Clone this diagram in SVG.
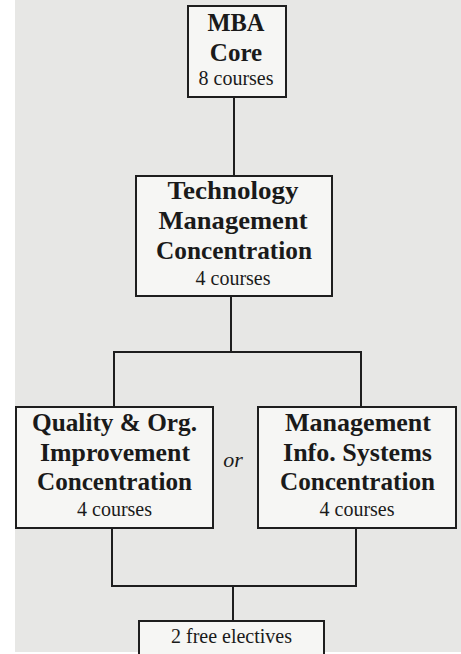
<svg xmlns="http://www.w3.org/2000/svg" width="461" height="654" viewBox="0 0 461 654">
<style>
.box{fill:#f6f6f4;stroke:#1e1e1e;stroke-width:2}
.t{font-family:"Liberation Serif","Times New Roman",serif;font-weight:bold;font-size:25px;fill:#1a1a1a;text-anchor:middle}
.s{font-family:"Liberation Serif","Times New Roman",serif;font-size:20px;fill:#1a1a1a;text-anchor:middle}
.or{font-family:"Liberation Serif","Times New Roman",serif;font-style:italic;font-size:22px;fill:#1a1a1a;text-anchor:middle}
.c{fill:none;stroke:#1e1e1e;stroke-width:2}
</style>
<rect x="0" y="0" width="461" height="654" fill="#ffffff"/>
<rect x="15" y="0" width="446" height="652" fill="#e7e7e5"/>
<g id="connectors">
<path class="c" d="M234 97V176"/>
<path class="c" d="M231 296V352"/>
<path class="c" d="M114 407V352H361V407"/>
<path class="c" d="M112 528V586H356V528"/>
<path class="c" d="M233 586V621"/>
</g>
<g id="mba">
<rect class="box" x="188" y="6" width="98" height="91"/>
<text class="t" x="236" y="31" textLength="57" lengthAdjust="spacingAndGlyphs">MBA</text>
<text class="t" x="236" y="61">Core</text>
<text class="s" x="236" y="85">8 courses</text>
</g>
<g id="tech">
<rect class="box" x="136" y="176" width="196" height="120"/>
<text class="t" x="233" y="199" textLength="131" lengthAdjust="spacingAndGlyphs">Technology</text>
<text class="t" x="233" y="229" textLength="149" lengthAdjust="spacingAndGlyphs">Management</text>
<text class="t" x="234" y="259" textLength="156" lengthAdjust="spacingAndGlyphs">Concentration</text>
<text class="s" x="233" y="285">4 courses</text>
</g>
<g id="quality">
<rect class="box" x="16" y="407" width="197" height="121"/>
<text class="t" x="114.5" y="431" textLength="165" lengthAdjust="spacingAndGlyphs">Quality &amp; Org.</text>
<text class="t" x="115" y="461" textLength="150" lengthAdjust="spacingAndGlyphs">Improvement</text>
<text class="t" x="114.5" y="490" textLength="155" lengthAdjust="spacingAndGlyphs">Concentration</text>
<text class="s" x="114.5" y="516">4 courses</text>
</g>
<text class="or" x="233" y="467">or</text>
<g id="mis">
<rect class="box" x="258" y="407" width="198" height="121"/>
<text class="t" x="358" y="431" textLength="146" lengthAdjust="spacingAndGlyphs">Management</text>
<text class="t" x="357.5" y="461" textLength="149" lengthAdjust="spacingAndGlyphs">Info. Systems</text>
<text class="t" x="357.5" y="490" textLength="155" lengthAdjust="spacingAndGlyphs">Concentration</text>
<text class="s" x="357" y="516">4 courses</text>
</g>
<g id="electives">
<rect class="box" x="139" y="621" width="185" height="45"/>
<text class="s" x="231.5" y="643">2 free electives</text>
</g>
</svg>
